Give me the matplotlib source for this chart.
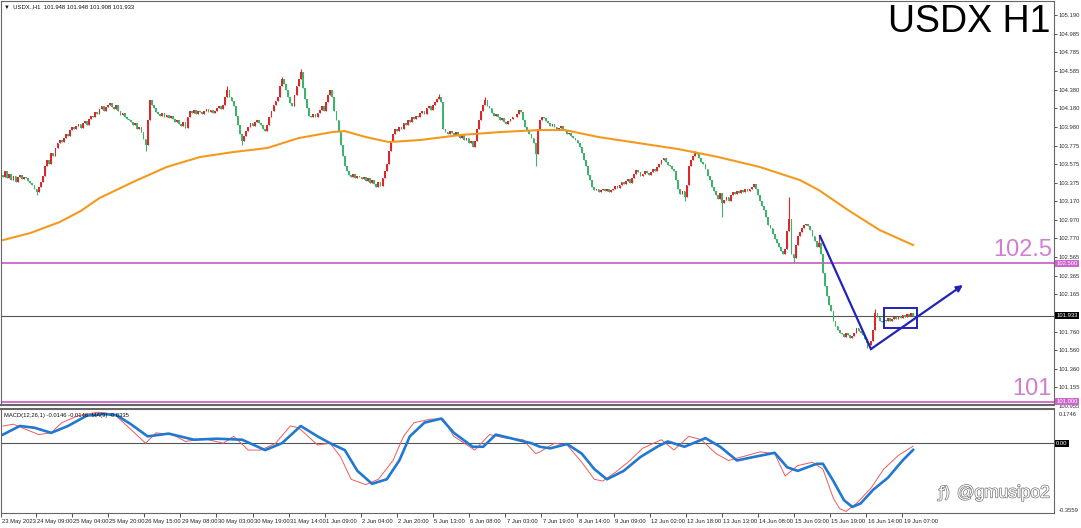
import numpy as np
import matplotlib
matplotlib.use('Agg')
import matplotlib.pyplot as plt
import matplotlib.transforms as mtrans
import matplotlib.patheffects as pe

# --- Daten ---

# Schlusskurse USDX H1, ein Wert pro Stunde
closes = np.array([
    103.44, 103.50, 103.42, 103.47, 103.40, 103.45, 103.38, 103.43, 103.46, 103.41,
    103.44, 103.42, 103.39, 103.37, 103.35, 103.31, 103.27, 103.33, 103.38, 103.45,
    103.55, 103.62, 103.58, 103.70, 103.66, 103.75, 103.80, 103.84, 103.81, 103.86,
    103.90, 103.88, 103.94, 103.98, 103.95, 103.99, 104.01, 103.97, 104.02, 104.04,
    104.00, 104.06, 104.10, 104.08, 104.14, 104.12, 104.17, 104.20, 104.15, 104.19,
    104.22, 104.24, 104.19, 104.17, 104.21, 104.15, 104.11, 104.13, 104.08, 104.06,
    104.05, 104.03, 104.00, 104.02, 103.96, 103.98, 103.92, 103.85, 103.78, 104.05,
    104.27, 104.22, 104.18, 104.14, 104.12, 104.10, 104.13, 104.09, 104.11, 104.07,
    104.10, 104.06, 104.03, 104.05, 104.01, 103.99, 104.03, 103.97, 104.08, 104.15,
    104.13, 104.16, 104.12, 104.15, 104.14, 104.12, 104.15, 104.17, 104.14, 104.16,
    104.13, 104.15, 104.18, 104.20, 104.17, 104.22, 104.30, 104.38, 104.30, 104.26,
    104.20, 104.10, 104.00, 103.90, 103.82, 103.88, 103.93, 103.98, 104.02, 103.99,
    104.03, 104.05, 104.02, 104.00, 103.96, 103.93, 104.00, 104.08, 104.15, 104.22,
    104.26, 104.30, 104.42, 104.50, 104.44, 104.38, 104.30, 104.24, 104.20, 104.32,
    104.42, 104.50, 104.57, 104.40, 104.28, 104.18, 104.10, 104.08, 104.12, 104.09,
    104.13, 104.16, 104.20, 104.15, 104.25, 104.32, 104.38, 104.30, 104.15, 104.05,
    103.92, 103.78, 103.66, 103.55, 103.50, 103.46, 103.44, 103.47, 103.42, 103.45,
    103.43, 103.41, 103.44, 103.39, 103.42, 103.37, 103.40, 103.36, 103.33, 103.38,
    103.34, 103.42, 103.50, 103.58, 103.72, 103.82, 103.90, 103.95, 103.93, 103.98,
    103.96, 104.02, 104.00, 104.05, 104.03, 104.08, 104.06, 104.10, 104.08, 104.13,
    104.15, 104.12, 104.18, 104.20, 104.16, 104.22, 104.25, 104.28, 104.30, 104.25,
    103.95, 103.92, 103.90, 103.93, 103.91, 103.89, 103.92, 103.88, 103.86, 103.89,
    103.84, 103.86, 103.80, 103.83, 103.76, 103.82, 103.95, 104.05, 104.15, 104.22,
    104.27, 104.20, 104.18, 104.13, 104.10, 104.12, 104.08, 104.05, 104.07, 104.03,
    104.01, 104.04, 104.06, 104.09, 104.08, 104.12, 104.16, 104.14, 104.05, 103.98,
    103.94, 103.90, 103.86, 103.80, 103.68, 103.95, 104.05, 104.09, 104.07, 104.04,
    104.02, 103.99, 104.01, 103.98, 103.96, 103.97, 103.99, 103.95, 103.93, 103.90,
    103.91, 103.88, 103.86, 103.84, 103.80, 103.76, 103.70, 103.62, 103.55, 103.46,
    103.40, 103.33, 103.29, 103.30, 103.27, 103.29, 103.31, 103.28, 103.30, 103.27,
    103.29, 103.31, 103.34, 103.32, 103.35, 103.38, 103.36, 103.39, 103.41, 103.37,
    103.42, 103.47, 103.51, 103.49, 103.45, 103.47, 103.50, 103.48, 103.46, 103.49,
    103.52, 103.50, 103.54, 103.58, 103.62, 103.64, 103.60, 103.57, 103.55, 103.52,
    103.50, 103.40, 103.30, 103.25, 103.28, 103.22, 103.35, 103.55, 103.62, 103.66,
    103.70, 103.68, 103.64, 103.60, 103.58, 103.52, 103.45, 103.40, 103.33, 103.28,
    103.24, 103.20, 103.26, 103.15, 103.19, 103.22, 103.18, 103.24, 103.27, 103.25,
    103.28, 103.26, 103.29, 103.27, 103.30, 103.28, 103.31, 103.33, 103.36, 103.30,
    103.24, 103.18, 103.12, 103.08, 103.00, 102.92, 102.88, 102.82, 102.76, 102.72,
    102.68, 102.63, 102.60, 102.66, 102.85, 102.98, 102.60, 102.56, 102.70, 102.80,
    102.84, 102.88, 102.91, 102.93, 102.90, 102.86, 102.80, 102.74, 102.68, 102.72,
    102.60, 102.40, 102.25, 102.15, 102.05, 101.98, 101.88, 101.82, 101.78, 101.75,
    101.73, 101.70, 101.74, 101.72, 101.69, 101.71, 101.74, 101.80, 101.77, 101.75,
    101.72, 101.68, 101.64, 101.62, 101.66, 101.78, 101.96, 101.92, 101.88, 101.86,
    101.89, 101.87, 101.91, 101.88, 101.90, 101.92, 101.90, 101.93, 101.91, 101.94,
    101.92, 101.95, 101.93, 101.96, 101.933])
first_open = 103.46

# Auffällige Dochte (Index, Kurs)
spike_hi_idx = [107, 133, 142, 208, 230, 330, 375, 389, 416]
spike_hi_val = [104.42, 104.52, 104.60, 104.33, 104.30, 103.72, 103.22, 102.80, 102.00]
spike_lo_idx = [16, 68, 114, 254, 325, 343, 377, 412]
spike_lo_val = [103.24, 103.72, 103.78, 103.55, 103.18, 103.00, 102.50, 101.58]

# gleitender Durchschnitt (orange)
ma_idx = [0, 13, 27, 37, 46, 62, 78, 94, 110, 126, 141, 157, 163, 173, 184,
          199, 218, 237, 256, 268, 284, 303, 322, 341, 361, 380, 389, 403, 418, 434]
ma_val = [102.752, 102.828, 102.947, 103.066, 103.207, 103.381, 103.543, 103.652,
          103.706, 103.749, 103.857, 103.922, 103.933, 103.868, 103.814, 103.836,
          103.890, 103.922, 103.944, 103.944, 103.868, 103.803, 103.738, 103.652,
          103.543, 103.402, 103.294, 103.077, 102.861, 102.698]

# MACD Hauptlinie (rot) und Signal (blau)
red_idx = [0, 5, 17, 23, 28, 36, 45, 53, 61, 68, 73, 81, 87, 96, 105, 110, 117, 123,
           130, 137, 141, 150, 156, 161, 166, 173, 179, 186, 191, 196, 204, 210, 215,
           225, 232, 240, 248, 254, 256, 263, 269, 276, 282, 286, 292, 299, 305, 314,
           320, 327, 333, 340, 346, 355, 361, 368, 373, 379, 386, 391, 396, 399, 402,
           407, 414, 420, 427, 434]
red_val = [0.088, 0.097, 0.044, 0.053, 0.105, 0.141, 0.158, 0.149, 0.070, 0.0,
           0.053, 0.044, 0.009, 0.023, 0.0, 0.035, -0.035, -0.035, 0.0, 0.088,
           0.079, -0.009, 0.0, -0.070, -0.184, -0.211, -0.184, -0.088, 0.035, 0.105,
           0.123, 0.123, 0.035, -0.035, 0.044, 0.026, 0.018, -0.053, -0.044, 0.0,
           -0.009, -0.097, -0.184, -0.193, -0.149, -0.088, -0.026, 0.018, -0.035, 0.035,
           0.018, -0.053, -0.088, -0.062, -0.044, -0.053, -0.167, -0.114, -0.097, -0.132,
           -0.281, -0.334, -0.348, -0.307, -0.228, -0.132, -0.062, -0.015]
blue_idx = [0, 8, 15, 23, 31, 40, 48, 54, 61, 69, 79, 91, 102, 114, 125, 133, 142,
            150, 156, 163, 169, 176, 183, 189, 194, 201, 209, 215, 224, 229, 235, 245,
            252, 256, 261, 269, 276, 282, 288, 296, 304, 312, 317, 325, 335, 342, 350,
            358, 368, 374, 379, 388, 391, 396, 401, 405, 409, 415, 422, 429, 434]
blue_val = [0.044, 0.088, 0.079, 0.053, 0.088, 0.141, 0.149, 0.144, 0.097, 0.035,
            0.049, 0.018, 0.023, 0.018, -0.035, 0.0, 0.088, 0.035, 0.0, -0.035,
            -0.141, -0.207, -0.184, -0.088, 0.035, 0.105, 0.126, 0.053, -0.018, -0.018,
            0.044, 0.018, 0.0, -0.018, -0.026, -0.004, -0.053, -0.132, -0.184, -0.141,
            -0.070, -0.018, 0.009, -0.018, 0.026, -0.018, -0.088, -0.070, -0.049, -0.123,
            -0.141, -0.105, -0.105, -0.193, -0.290, -0.325, -0.307, -0.237, -0.176, -0.088,
            -0.034]

# Zeichnungen (Pfeile und Rechteck)
arrow_idx = [389.6, 413.9, 457.8]
arrow_val = [102.796, 101.571, 102.265]
box_idx = [420.1, 435.9]
box_val = [101.799, 102.016]

level_hi = 102.5
level_lo = 101.0
last_price = 101.933

price_ticks = [105.190, 104.985, 104.785, 104.585, 104.380, 104.180, 103.980, 103.775,
               103.575, 103.375, 103.170, 102.970, 102.770, 102.565, 102.365, 102.165,
               101.760, 101.560, 101.360, 101.155]

time_labels = ["24 May 09:00", "25 May 04:00", "25 May 20:00", "26 May 15:00",
               "29 May 08:00", "30 May 03:00", "30 May 19:00", "31 May 14:00",
               "1 Jun 09:00", "2 Jun 04:00", "2 Jun 20:00", "5 Jun 13:00",
               "6 Jun 08:00", "7 Jun 03:00", "7 Jun 19:00", "8 Jun 14:00",
               "9 Jun 09:00", "12 Jun 02:00", "12 Jun 18:00", "13 Jun 13:00",
               "14 Jun 08:00", "15 Jun 03:00", "15 Jun 19:00", "16 Jun 14:00",
               "19 Jun 07:00"]

# --- Plot-Einstellungen ---
W, H = 1081, 528
fs = 4.2
ff = "Liberation Sans"
col_up = "#e0252b"
col_dn = "#3fb36b"
col_lvl = "#cc66cc"
col_txt_lvl = "#cf7fcf"
col_draw = "#2323b8"
xl = (-0.95, 501.2)

fig = plt.figure(figsize=(W / 100, H / 100), dpi=100)
ax = fig.add_axes([1 / W, 1 - 405 / H, 1053 / W, 404 / H])
axm = fig.add_axes([1 / W, 1 - 513 / H, 1053 / W, 104 / H])

# Kerzen
idx = np.arange(closes.size)
opens = np.concatenate([[first_open], closes[:-1]])
highs = np.maximum(opens, closes)
lows = np.minimum(opens, closes)
highs[spike_hi_idx] = np.maximum(highs[spike_hi_idx], spike_hi_val)
lows[spike_lo_idx] = np.minimum(lows[spike_lo_idx], spike_lo_val)
up = closes >= opens
cols = np.where(up, col_up, col_dn)
ax.vlines(idx, lows, highs, colors=cols, lw=0.8, zorder=3)
body = np.maximum(np.abs(closes - opens), 0.008)
ax.bar(idx, body, bottom=np.minimum(opens, closes), width=0.85,
       color=cols, linewidth=0, zorder=3)

ax.plot(ma_idx, ma_val, color="#f39a1e", lw=1.5, zorder=4)

ax.axhline(level_hi, color=col_lvl, lw=1.3, zorder=2)
ax.axhline(level_lo, color=col_lvl, lw=1.3, zorder=2)
ax.axhline(last_price, color="#555555", lw=0.8, zorder=2)

# Pfeile und Rechteck
ax.plot(arrow_idx[:2], arrow_val[:2], color=col_draw, lw=1.6, zorder=5)
ax.annotate("", xy=(arrow_idx[2], arrow_val[2]), xytext=(arrow_idx[1], arrow_val[1]),
            arrowprops=dict(arrowstyle="-|>", color=col_draw, lw=1.6,
                            mutation_scale=9, shrinkA=0, shrinkB=0), zorder=5)
ax.add_patch(plt.Rectangle((box_idx[0], box_val[0]), box_idx[1] - box_idx[0],
                           box_val[1] - box_val[0], fill=False, ec=col_draw, lw=1.4, zorder=5))

ax.set_xlim(*xl)
ax.set_ylim(100.965, 105.342)
ax.yaxis.tick_right()
ax.set_yticks(price_ticks)
ax.set_yticklabels(["%.3f" % v for v in price_ticks], family=ff)
ax.tick_params(axis="y", labelsize=fs, length=2, width=0.6, pad=1.0, colors="#333333")
ax.set_xticks([])

trans = mtrans.blended_transform_factory(ax.transAxes, ax.transData)
ax.text(1.002, last_price, "%.3f" % last_price, transform=trans, fontsize=fs, color="white",
        family=ff, va="center", ha="left",
        bbox=dict(boxstyle="square,pad=0.2", fc="black", ec="none"), zorder=10, clip_on=False)
for lv in [level_hi, level_lo]:
    ax.text(1.002, lv, "%.3f" % lv, transform=trans, fontsize=fs, color="white",
            family=ff, va="center", ha="left",
            bbox=dict(boxstyle="square,pad=0.2", fc=col_lvl, ec="none"), zorder=10, clip_on=False)
ax.text(1.0045, -0.004, "100.955", transform=ax.transAxes, fontsize=fs, color="#333333",
        family=ff, va="center", ha="left", clip_on=False)

ax.text(1050 / 1053, 0.993, "USDX H1", transform=ax.transAxes, fontsize=27,
        family=ff, ha="right", va="top", color="black")
ax.text(1051 / 1053, level_hi + 0.02, "102.5", transform=trans, fontsize=17,
        family=ff, ha="right", va="bottom", color=col_txt_lvl)
ax.text(1051 / 1053, level_lo + 0.02, "101", transform=trans, fontsize=17,
        family=ff, ha="right", va="bottom", color=col_txt_lvl)
ax.text(0.003, 0.992, "\u25bc  USDX.,H1  101.948 101.948 101.908 101.933", transform=ax.transAxes,
        fontsize=fs, ha="left", va="top", color="#111111", family=[ff, "DejaVu Sans"])

# MACD
axm.axhline(0, color="#555555", lw=0.8)
axm.plot(red_idx, red_val, color="#ef5a5a", lw=0.7)
axm.plot(blue_idx, blue_val, color="#1f78d1", lw=1.9)
axm.set_xlim(*xl)
axm.set_ylim(-0.3559, 0.1746)
axm.set_yticks([])
axm.text(0.003, 0.96, "MACD(12,26,1) -0.0146 -0.0146  MA(9) -0.0335", transform=axm.transAxes,
         fontsize=fs, family=ff, ha="left", va="top", color="#111111")
tm = mtrans.blended_transform_factory(axm.transAxes, axm.transData)
axm.text(1.0045, 0.16, "0.1746", transform=tm, fontsize=fs, family=ff, color="#333333",
         va="top", ha="left", clip_on=False)
axm.text(1.002, 0.0, "0.00", transform=tm, fontsize=fs, family=ff, color="white",
         va="center", ha="left",
         bbox=dict(boxstyle="square,pad=0.2", fc="black", ec="none"), clip_on=False)
axm.text(1.0045, -0.3559, "-0.3559", transform=tm, fontsize=fs, family=ff, color="#333333",
         va="bottom", ha="left", clip_on=False)

# Zeitachse
tick_pos = list(np.linspace(15.7, 428.9, len(time_labels)))
axm.set_xticks([xl[0]] + tick_pos)
axm.set_xticklabels([])
axm.tick_params(axis="x", length=3, width=0.6, colors="#333333")
tx = mtrans.blended_transform_factory(axm.transData, axm.transAxes)
axm.text(xl[0] + 0.6, -0.06, "23 May 2023", transform=tx, fontsize=fs, family=ff,
         ha="left", va="top", color="#222222", clip_on=False)
for p, lab in zip(tick_pos, time_labels):
    axm.text(p + 0.6, -0.06, lab, transform=tx, fontsize=fs, family=ff, ha="left", va="top",
             color="#222222", clip_on=False)

for a in [ax, axm]:
    for s in a.spines.values():
        s.set_color("#666666")
        s.set_linewidth(0.8)
ax.spines["bottom"].set_linewidth(1.5)
axm.spines["top"].set_linewidth(1.5)

# Wasserzeichen
fig.text(1050 / W, 1 - 493 / H, "@gmusipo2", fontsize=12.5, family=ff, ha="right", va="center",
         color="white", path_effects=[pe.withStroke(linewidth=1.0, foreground="#777777")])
fig.text(950 / W, 1 - 493 / H, "\u0192)", fontsize=11, ha="right", va="center",
         color="white", path_effects=[pe.withStroke(linewidth=1.0, foreground="#777777")])

fig.savefig("out.png", dpi=100)
